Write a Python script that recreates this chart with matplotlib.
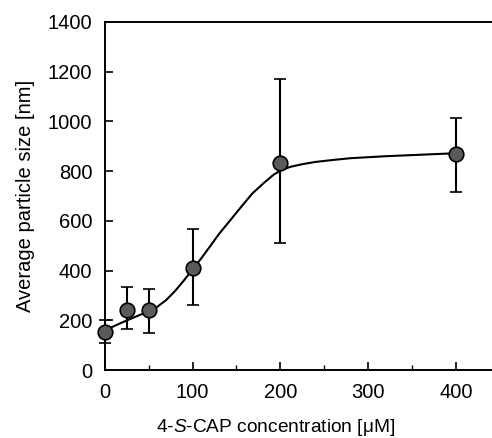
import matplotlib
matplotlib.use("Agg")
import matplotlib.pyplot as plt
import numpy as np
from matplotlib.ticker import MultipleLocator

# --- Data ---
conc = [0, 25, 50, 100, 200, 400]
size = [152, 241, 240, 410, 833, 869]
err_low = [45, 76, 91, 149, 322, 153]
err_high = [49, 93, 86, 157, 337, 145]

# fitted curve, points
curve_x = [0, 10, 20, 30, 40, 50, 60, 70, 80, 90, 100, 110, 120, 130, 143, 155,
           168, 181, 192, 200, 211, 225, 240, 260, 280, 320, 360, 400]
curve_y = [160, 176, 192, 207, 222, 236, 255, 282, 318, 360, 405, 450, 498, 547, 603, 655,
           710, 752, 785, 802, 817, 828, 837, 845, 852, 860, 866, 872]

plt.rcParams.update({
    "font.family": ["Liberation Sans", "DejaVu Sans"],
    "font.size": 14,
    "mathtext.fontset": "custom",
    "mathtext.it": "Liberation Sans:italic",
    "mathtext.rm": "Liberation Sans",
})

fig = plt.figure(figsize=(4.92, 4.38), dpi=100)
ax = fig.add_axes([0.213, 0.155, 0.787, 0.795])

ax.plot(curve_x, curve_y, color="black", linewidth=1.5, zorder=2)
ax.errorbar(conc, size, yerr=[err_low, err_high], fmt="o", color="black",
            ecolor="black", elinewidth=1.5, capsize=4, capthick=1.5,
            markersize=10.5, markerfacecolor="#5a5a5a", markeredgecolor="black",
            markeredgewidth=1.2, zorder=3, clip_on=False)

ax.set_xlim(0, 441)
ax.set_ylim(0, 1400)
ax.xaxis.set_major_locator(MultipleLocator(100))
ax.xaxis.set_minor_locator(MultipleLocator(50))
ax.yaxis.set_major_locator(MultipleLocator(200))

ax.tick_params(axis="both", which="major", direction="in", length=6, width=1.2, pad=9,
               labelsize=14.5, top=False, right=False)
ax.tick_params(axis="x", which="minor", direction="in", length=3.5, width=1.0)

for s in ["left", "bottom", "top"]:
    ax.spines[s].set_linewidth(1.4)
ax.spines["right"].set_visible(False)

ax.set_ylabel("Average particle size [nm]", fontsize=14.5, labelpad=9)
ax.set_xlabel(r"4-$\mathit{S}$-CAP concentration [$\mathrm{\mu}$M]", fontsize=13.8)
ax.xaxis.set_label_coords(0.44, -0.135)

fig.savefig("out.png", dpi=100)
